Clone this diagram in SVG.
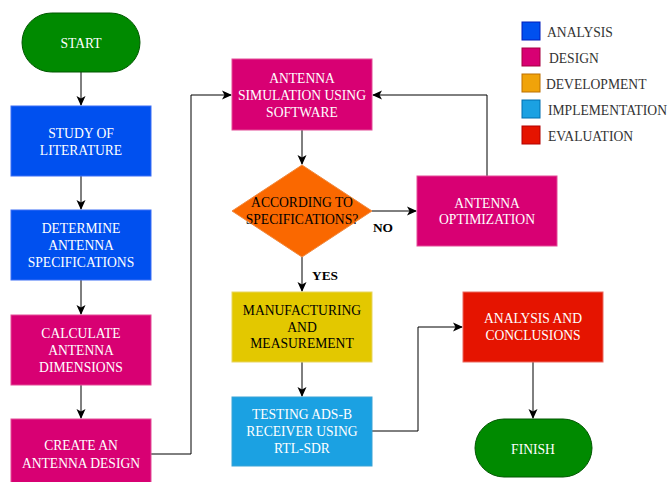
<svg xmlns="http://www.w3.org/2000/svg" width="670" height="482" viewBox="0 0 670 482">
<style>
text{font-family:"Liberation Serif","Times New Roman",serif;font-size:13.6px;text-anchor:middle}
.w{fill:#ffffff}
.k{fill:#000000}
.lg{fill:#333333;text-anchor:start}
.b{font-weight:bold;font-size:13.4px}
.blue{fill:#0050ef;stroke:#3c6ff5}
.pink{fill:#d80073;stroke:#e34d97}
.orange{fill:#fa6800;stroke:#f08a40}
.yellow{fill:#e3c800;stroke:#e8d560}
.cyan{fill:#1ba1e2;stroke:#3aa3d6}
.red{fill:#e51400;stroke:#ea6a60}
.green{fill:#008a00;stroke:#005700}
.dev{fill:#f0a30a;stroke:#bd7000}
.conn path{fill:none;stroke:#000000;stroke-width:1}
</style>
<defs>
<marker id="arr" viewBox="0 0 10 10" refX="9" refY="5" markerWidth="10" markerHeight="10" markerUnits="userSpaceOnUse" orient="auto">
<path d="M0,0.5 L10,5 L0,9.5 L2.5,5 Z" fill="#000000"/>
</marker>
</defs>
<rect width="670" height="482" fill="#ffffff"/>
<g class="conn">
<path d="M81,72 V105" marker-end="url(#arr)"/>
<path d="M81,176 V209" marker-end="url(#arr)"/>
<path d="M81,280 V314" marker-end="url(#arr)"/>
<path d="M81,385 V418" marker-end="url(#arr)"/>
<path d="M151,454 H191 V95 H231" marker-end="url(#arr)"/>
<path d="M302,130 V164" marker-end="url(#arr)"/>
<path d="M372,211 H416" marker-end="url(#arr)"/>
<path d="M487,176 V95 H373" marker-end="url(#arr)"/>
<path d="M302,257 V291" marker-end="url(#arr)"/>
<path d="M302,362 V396" marker-end="url(#arr)"/>
<path d="M372,431 H418 V327 H462" marker-end="url(#arr)"/>
<path d="M533,362 V418" marker-end="url(#arr)"/>
</g>
<g id="start"><rect class="green" x="22" y="13" width="118" height="59" rx="29.5"/><text class="w" x="81" y="47.5">START</text></g>
<g id="study"><rect class="blue" x="11" y="106" width="140" height="70"/><text class="w" x="81" y="137.5">STUDY OF</text><text class="w" x="81" y="154.5">LITERATURE</text></g>
<g id="determine"><rect class="blue" x="11" y="210" width="140" height="70"/><text class="w" x="81" y="232.5">DETERMINE</text><text class="w" x="81" y="249.5">ANTENNA</text><text class="w" x="81" y="266.5">SPECIFICATIONS</text></g>
<g id="calculate"><rect class="pink" x="11" y="315" width="140" height="70"/><text class="w" x="81" y="337.5">CALCULATE</text><text class="w" x="81" y="354.5">ANTENNA</text><text class="w" x="81" y="371.5">DIMENSIONS</text></g>
<g id="create"><rect class="pink" x="11" y="419" width="140" height="70"/><text class="w" x="81" y="449.5">CREATE AN</text><text class="w" x="81" y="467.5">ANTENNA DESIGN</text></g>
<g id="simulation"><rect class="pink" x="232" y="59" width="140" height="71"/><text class="w" x="302" y="82.5">ANTENNA</text><text class="w" x="302" y="99.5">SIMULATION USING</text><text class="w" x="302" y="116.5">SOFTWARE</text></g>
<g id="decision"><path class="orange" d="M302,165 L372,211 L302,257 L232,211 Z"/><text class="k" x="302" y="206.5">ACCORDING TO</text><text class="k" x="302" y="223.5">SPECIFICATIONS?</text></g>
<g id="optimization"><rect class="pink" x="417" y="176" width="140" height="70"/><text class="w" x="487" y="207.5">ANTENNA</text><text class="w" x="487" y="224">OPTIMIZATION</text></g>
<g id="manufacturing"><rect class="yellow" x="232" y="292" width="140" height="70"/><text class="k" x="302" y="314.5">MANUFACTURING</text><text class="k" x="302" y="331.5">AND</text><text class="k" x="302" y="348">MEASUREMENT</text></g>
<g id="testing"><rect class="cyan" x="232" y="397" width="140" height="69"/><text class="w" x="302" y="419">TESTING ADS-B</text><text class="w" x="302" y="436">RECEIVER USING</text><text class="w" x="302" y="453">RTL-SDR</text></g>
<g id="analysis"><rect class="red" x="463" y="292" width="140" height="70"/><text class="w" x="533" y="322.5">ANALYSIS AND</text><text class="w" x="533" y="339.5">CONCLUSIONS</text></g>
<g id="finish"><rect class="green" x="475" y="419" width="117" height="58" rx="29"/><text class="w" x="533" y="453.5">FINISH</text></g>
<text class="k b" x="383" y="231.5">NO</text>
<text class="k b" x="325" y="279.5">YES</text>
<g id="legend">
<rect class="blue" x="522" y="22" width="18" height="18" style="stroke:#001dbc"/><text class="lg" x="547" y="36.5">ANALYSIS</text>
<rect class="pink" x="522" y="48" width="18" height="18" style="stroke:#a50040"/><text class="lg" x="549" y="62.5">DESIGN</text>
<rect class="dev" x="522" y="74" width="18" height="18"/><text class="lg" x="546" y="88.5">DEVELOPMENT</text>
<rect class="cyan" x="522" y="100" width="18" height="18" style="stroke:#006eaf"/><text class="lg" x="548" y="114.5">IMPLEMENTATION</text>
<rect class="red" x="522" y="126" width="18" height="18" style="stroke:#b20000"/><text class="lg" x="548" y="140.5">EVALUATION</text>
</g>
</svg>
